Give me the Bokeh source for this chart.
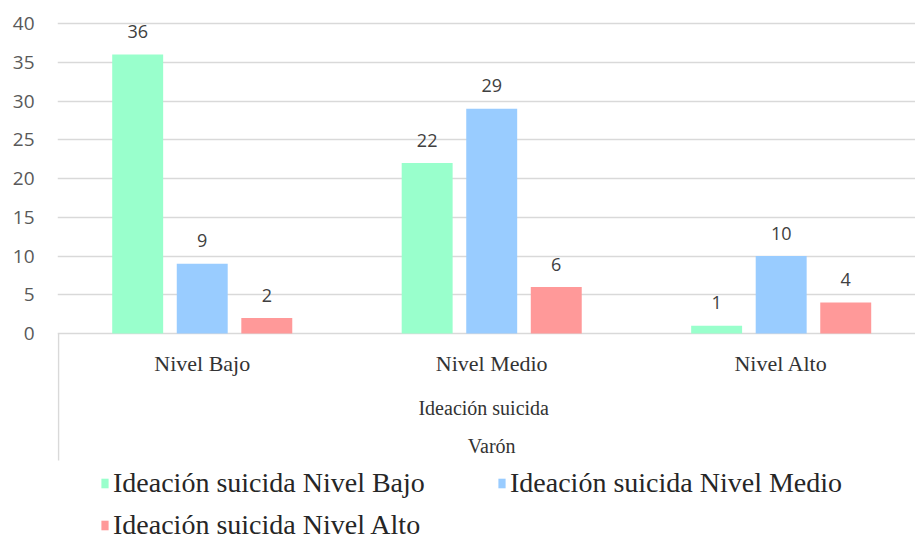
from bokeh.plotting import figure
from bokeh.models import (Range1d, FixedTicker, Legend, LegendItem, ColumnDataSource)
from bokeh.embed import file_html
from bokeh.resources import INLINE
from bokeh.core.properties import value
import numpy as np

# Ideación suicida por nivel (varones)
categories = ["Nivel Bajo", "Nivel Medio", "Nivel Alto"]
ideacion_bajo = [36, 22, 1]
ideacion_medio = [9, 29, 10]
ideacion_alto = [2, 6, 4]
series_names = ["Ideación suicida Nivel Bajo", "Ideación suicida Nivel Medio",
                "Ideación suicida Nivel Alto"]
y_ticks = [0, 5, 10, 15, 20, 25, 30, 35, 40]
axis_title = "Ideación suicida"
group_title = "Varón"

colors = ["#99FFCC", "#99CCFF", "#FF9999"]
offsets = [-0.223, 0.0, 0.223]
bar_width = 0.176

SERIF = "Liberation Serif"
SANS = "Open Sans"

# Layout: the frame runs from the top margin to the bottom of the canvas so the
# category labels, titles and legend sit below the zero line inside it.
W, H = 915, 546
top_margin, left_margin = 21, 57
px_per_unit = 7.75
y_top = 40 + 2 / px_per_unit
y_bottom = y_top - (H - top_margin) / px_per_unit

p = figure(width=W, height=H, output_backend="svg", toolbar_location=None,
           x_range=Range1d(-0.5, 2.464), y_range=Range1d(y_bottom, y_top),
           x_axis_location=None,
           min_border_left=left_margin, min_border_right=0,
           min_border_top=top_margin, min_border_bottom=0)
p.outline_line_color = None
p.background_fill_color = "white"
p.border_fill_color = "white"

idx = np.arange(len(categories))
renderers = []
for vals, col, off in zip([ideacion_bajo, ideacion_medio, ideacion_alto], colors, offsets):
    src = ColumnDataSource(dict(x=idx + off, top=vals, lbl=[str(v) for v in vals]))
    r = p.vbar(x="x", top="top", width=bar_width, bottom=0, source=src,
               fill_color=col, line_color=None)
    renderers.append(r)
    p.text(x="x", y="top", text="lbl", source=src, text_align="center",
           text_baseline="middle", y_offset=-23, text_font=value(SANS),
           text_font_size="18px", text_color="#404040")

# value axis
ya = p.yaxis[0]
ya.ticker = FixedTicker(ticks=y_ticks)
ya.axis_line_color = None
ya.major_tick_line_color = None
ya.minor_tick_line_color = None
ya.major_label_standoff = 17
ya.major_label_text_font = SANS
ya.major_label_text_font_size = "19px"
ya.major_label_text_color = "#595959"
p.ygrid.grid_line_color = "#d9d9d9"
p.ygrid.grid_line_width = 1.5
p.ygrid.ticker = FixedTicker(ticks=y_ticks)
p.xgrid.grid_line_color = None

# left divider of the category axis
p.segment(x0=[-0.4965], y0=[0], x1=[-0.4965], y1=[-127 / px_per_unit],
          line_color="#d9d9d9", line_width=1.5)

# category labels (first level)
p.text(x=idx, y=[0] * len(categories), text=categories, text_align="center",
       text_baseline="middle", y_offset=30, text_font=value(SERIF),
       text_font_size="22px", text_color="#333333")

# second and third level titles
mid = (len(categories) - 1) / 2
p.text(x=[mid], y=[0], text=[axis_title], text_align="center",
       text_baseline="middle", y_offset=74, x_offset=-8, text_font=value(SERIF),
       text_font_size="20px", text_color="#333333")
p.text(x=[mid], y=[0], text=[group_title], text_align="center",
       text_baseline="middle", y_offset=112, text_font=value(SERIF),
       text_font_size="20px", text_color="#333333")

legend = Legend(items=[LegendItem(label=n, renderers=[r]) for n, r in zip(series_names, renderers)],
                ncols=2, orientation="horizontal", location=(43, 5))
legend.label_text_font = SERIF
legend.label_text_font_size = "28px"
legend.label_text_color = "#262626"
legend.glyph_width = 9
legend.glyph_height = 12
legend.label_standoff = 4
legend.label_width = 374
legend.label_height = 30
legend.spacing = 10
legend.border_line_color = None
legend.background_fill_alpha = 0
legend.padding = 0
legend.margin = 0
p.add_layout(legend, "center")

open("out.html", "w").write(file_html(p, INLINE))
